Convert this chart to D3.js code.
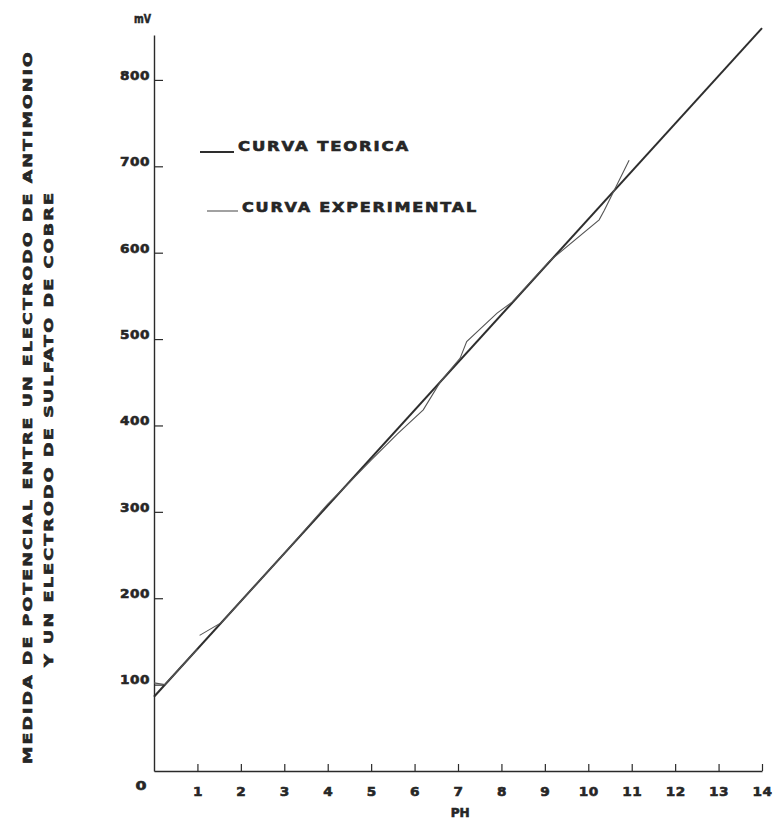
<!DOCTYPE html>
<html>
<head>
<meta charset="utf-8">
<script src="https://cdn.jsdelivr.net/npm/d3@7"></script>
<style>
  html, body { margin: 0; padding: 0; background: #ffffff; }
  svg { display: block; }
  text { font-family: "DejaVu Sans", sans-serif; font-weight: bold; fill: #262626; stroke: #262626; stroke-width: 0.6; }
</style>
</head>
<body>
<svg id="chart" width="779" height="819"></svg>
<script>
// ---- data ----
const xTicks = [1, 2, 3, 4, 5, 6, 7, 8, 9, 10, 11, 12, 13, 14];
const yTicks = [100, 200, 300, 400, 500, 600, 700, 800];
const theoPH = [0, 14];
const theoMV = [86, 860];
// experimental curve (null = pen lifted)
const expPH = [0, 0.25, 1.0, null, 1.05, 1.56, 3.0, 4.0, 4.5, 5.0, 5.6, 6.2, 6.6, 7.05, 7.2, 7.9, 8.25, 9.1, 10.25, 10.37, 10.94];
const expMV = [102, 100, 141, null, 157, 172, 252, 309, 334, 360, 390, 418, 451, 478, 497, 530, 543, 590, 638, 649, 707];
const legendLabels = ["CURVA TEORICA", "CURVA EXPERIMENTAL"];
const yTitle = ["MEDIDA DE POTENCIAL ENTRE UN ELECTRODO DE ANTIMONIO", "Y UN ELECTRODO  DE  SULFATO DE COBRE"];

const svg = d3.select("#chart");
const ink = "#2a2a2a";

const x = d3.scaleLinear().domain([0, 14]).range([154, 762]);
const y = d3.scaleLinear().domain([0, 852]).range([771, 35]);

function widen(sel, perChar) {
  sel.each(function () {
    const t = d3.select(this);
    const n = t.text().length;
    t.attr("textLength", perChar * n).attr("lengthAdjust", "spacingAndGlyphs");
  });
}

// x axis
const gx = svg.append("g").attr("transform", `translate(0,${y(0)})`)
  .call(d3.axisBottom(x).tickValues(xTicks).tickSize(-7).tickSizeOuter(0).tickPadding(16).tickFormat(d3.format("d")));
gx.select(".domain").attr("stroke", ink).attr("stroke-width", 1.4);
gx.selectAll(".tick line").attr("stroke", ink).attr("stroke-width", 1.2);
gx.selectAll(".tick text").attr("font-size", 13).attr("font-family", null).attr("fill", null).attr("letter-spacing", 0.5);
widen(gx.selectAll(".tick text"), 10);

// y axis
const gy = svg.append("g").attr("transform", `translate(${x(0)},0)`)
  .call(d3.axisLeft(y).tickValues(yTicks).tickSize(-9).tickSizeOuter(0).tickPadding(4).tickFormat(d3.format("d")));
gy.select(".domain").attr("stroke", ink).attr("stroke-width", 1.4);
gy.selectAll(".tick line").attr("stroke", ink).attr("stroke-width", 1.2);
gy.selectAll(".tick text").attr("font-size", 13).attr("font-family", null).attr("fill", null)
  .attr("dy", "-0.05em").attr("letter-spacing", 0.5);
widen(gy.selectAll(".tick text"), 10);

// zero label and unit labels
svg.append("text").attr("x", x(0) - 13).attr("y", y(0) + 19).attr("text-anchor", "middle").attr("font-size", 13)
  .attr("textLength", 11).attr("lengthAdjust", "spacingAndGlyphs").text("0");
svg.append("text").attr("x", x(0) - 3).attr("y", 23).attr("text-anchor", "end").attr("font-size", 12.5)
  .attr("textLength", 17).attr("lengthAdjust", "spacingAndGlyphs").text("mV");
svg.append("text").attr("x", x(7.05)).attr("y", 817).attr("text-anchor", "middle").attr("font-size", 12.5)
  .attr("textLength", 19).attr("lengthAdjust", "spacingAndGlyphs").text("PH");

// y title (rotated)
svg.append("text").attr("transform", "translate(32,407) rotate(-90)")
  .attr("text-anchor", "middle").attr("font-size", 12.5).attr("letter-spacing", 1.5)
  .attr("textLength", 714).attr("lengthAdjust", "spacingAndGlyphs").text(yTitle[0]);
svg.append("text").attr("transform", "translate(53,429) rotate(-90)")
  .attr("text-anchor", "middle").attr("font-size", 12.5).attr("letter-spacing", 1.5)
  .attr("textLength", 476).attr("lengthAdjust", "spacingAndGlyphs").text(yTitle[1]);

// theoretical line
const theo = theoPH.map((p, i) => [p, theoMV[i]]);
svg.append("path").datum(theo)
  .attr("d", d3.line().x(d => x(d[0])).y(d => y(d[1])))
  .attr("fill", "none").attr("stroke", "#2e2e2e").attr("stroke-width", 2);

// experimental line
const exp = expPH.map((p, i) => [p, expMV[i]]);
svg.append("path").datum(exp)
  .attr("d", d3.line().defined(d => d[0] !== null && d[1] !== null).x(d => x(d[0])).y(d => y(d[1])))
  .attr("fill", "none").attr("stroke", "#555").attr("stroke-width", 1.1);

// legend
svg.append("line").attr("x1", 200).attr("x2", 234).attr("y1", 152).attr("y2", 152)
  .attr("stroke", "#2e2e2e").attr("stroke-width", 2);
svg.append("text").attr("x", 238).attr("y", 151).attr("font-size", 13.5).attr("letter-spacing", 1.5)
  .attr("textLength", 172).attr("lengthAdjust", "spacingAndGlyphs").text(legendLabels[0]);
svg.append("line").attr("x1", 207).attr("x2", 238).attr("y1", 211).attr("y2", 211)
  .attr("stroke", "#555").attr("stroke-width", 1.1);
svg.append("text").attr("x", 242).attr("y", 212).attr("font-size", 13.5).attr("letter-spacing", 1.5)
  .attr("textLength", 236).attr("lengthAdjust", "spacingAndGlyphs").text(legendLabels[1]);
</script>
</body>
</html>
